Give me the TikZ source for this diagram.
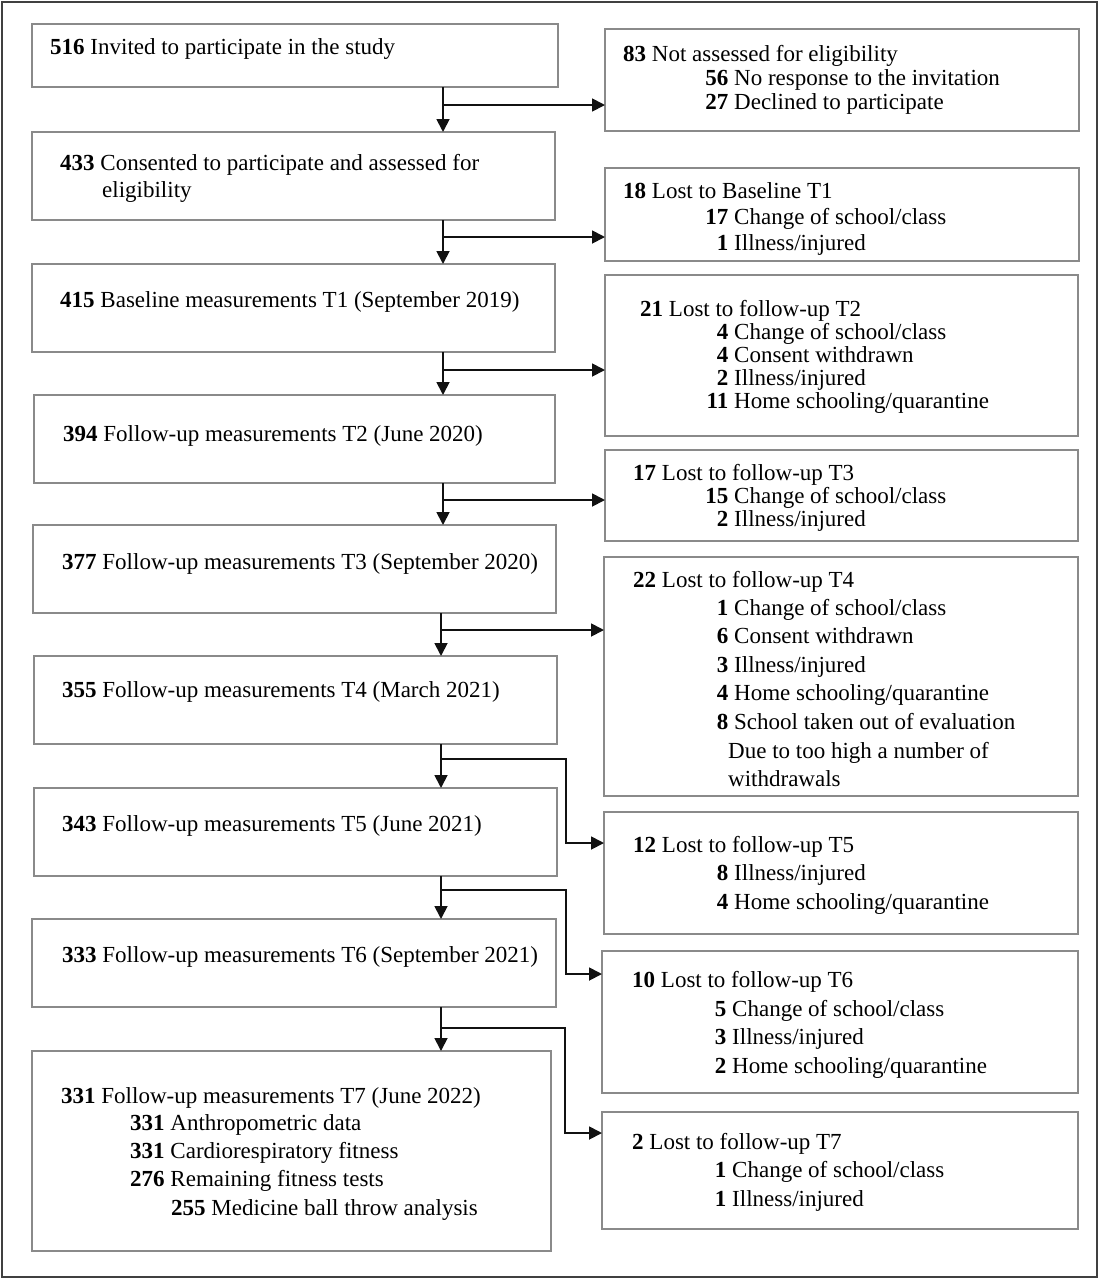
\documentclass[tikz,border=0pt]{standalone}
\usepackage{fontspec}
\setmainfont{Liberation Serif}
\usetikzlibrary{arrows.meta,fit}
\definecolor{boxgray}{HTML}{8A8A8A}
\definecolor{framegray}{HTML}{404040}
\definecolor{arrowblack}{HTML}{111111}
\newcommand\itm[2]{\llap{\textbf{#1}\ }#2}
\begin{document}
\begin{tikzpicture}[x=1pt,y=-1pt,
  box/.style={draw=boxgray, line width=1.4pt, inner sep=0pt, outer sep=0pt},
  txt/.style={anchor=base west, inner sep=0pt, font=\fontsize{23}{27}\selectfont},
  arr/.style={draw=arrowblack, line width=1.8pt, -{Triangle[length=13pt,width=13pt]}},
  ln/.style={draw=arrowblack, line width=1.8pt}]
\useasboundingbox (0,0) rectangle (1100,1280);
\draw[framegray, line width=1.5pt] (2,2) rectangle (1097,1277);

% left column boxes
\node[box, fit={(32,24) (558,87)}] (B1) {};
\node[box, fit={(32,132) (555,220)}] (B2) {};
\node[box, fit={(32,264) (555,352)}] (B3) {};
\node[box, fit={(34,395) (555,483)}] (B4) {};
\node[box, fit={(33,525) (556,613)}] (B5) {};
\node[box, fit={(34,656) (557,744)}] (B6) {};
\node[box, fit={(34,788) (557,876)}] (B7) {};
\node[box, fit={(32,919) (556,1007)}] (B8) {};
\node[box, fit={(32,1051) (551,1251)}] (B9) {};

% right column boxes
\node[box, fit={(605,29) (1079,131)}] (R1) {};
\node[box, fit={(605,168) (1079,261)}] (R2) {};
\node[box, fit={(605,275) (1078,436)}] (R3) {};
\node[box, fit={(605,450) (1078,541)}] (R4) {};
\node[box, fit={(604,557) (1078,796)}] (R5) {};
\node[box, fit={(604,812) (1078,934)}] (R6) {};
\node[box, fit={(602,951) (1078,1093)}] (R7) {};
\node[box, fit={(602,1112) (1078,1229)}] (R8) {};

% left texts
\node[txt] (t1) at (50,54) {\textbf{516} Invited to participate in the study};
\node[txt] (t2a) at (60,170) {\textbf{433} Consented to participate and assessed for};
\node[txt] (t2b) at (102,197) {eligibility};
\node[txt] (t3) at (60,307) {\textbf{415} Baseline measurements T1 (September 2019)};
\node[txt] (t4) at (63,441) {\textbf{394} Follow-up measurements T2 (June 2020)};
\node[txt] (t5) at (62,569) {\textbf{377} Follow-up measurements T3 (September 2020)};
\node[txt] (t6) at (62,697) {\textbf{355} Follow-up measurements T4 (March 2021)};
\node[txt] (t7) at (62,831) {\textbf{343} Follow-up measurements T5 (June 2021)};
\node[txt] (t8) at (62,962) {\textbf{333} Follow-up measurements T6 (September 2021)};
\node[txt] (t9a) at (61,1103) {\textbf{331} Follow-up measurements T7 (June 2022)};
\node[txt] (t9b) at (130,1130) {\textbf{331} Anthropometric data};
\node[txt] (t9c) at (130,1158) {\textbf{331} Cardiorespiratory fitness};
\node[txt] (t9d) at (130,1186) {\textbf{276} Remaining fitness tests};
\node[txt] (t9e) at (171,1215) {\textbf{255} Medicine ball throw analysis};

% right texts
\node[txt] (r1a) at (623,61) {\textbf{83} Not assessed for eligibility};
\node[txt] (r1b) at (734,85) {\itm{56}{No response to the invitation}};
\node[txt] (r1c) at (734,109) {\itm{27}{Declined to participate}};

\node[txt] (r2a) at (623,198) {\textbf{18} Lost to Baseline T1};
\node[txt] (r2b) at (734,224) {\itm{17}{Change of school/class}};
\node[txt] (r2c) at (734,250) {\itm{1}{Illness/injured}};

\node[txt] (r3a) at (640,316) {\textbf{21} Lost to follow-up T2};
\node[txt] (r3b) at (734,339) {\itm{4}{Change of school/class}};
\node[txt] (r3c) at (734,362) {\itm{4}{Consent withdrawn}};
\node[txt] (r3d) at (734,385) {\itm{2}{Illness/injured}};
\node[txt] (r3e) at (734,408) {\itm{11}{Home schooling/quarantine}};

\node[txt] (r4a) at (633,480) {\textbf{17} Lost to follow-up T3};
\node[txt] (r4b) at (734,503) {\itm{15}{Change of school/class}};
\node[txt] (r4c) at (734,526) {\itm{2}{Illness/injured}};

\node[txt] (r5a) at (633,587) {\textbf{22} Lost to follow-up T4};
\node[txt] (r5b) at (734,615) {\itm{1}{Change of school/class}};
\node[txt] (r5c) at (734,643.5) {\itm{6}{Consent withdrawn}};
\node[txt] (r5d) at (734,672) {\itm{3}{Illness/injured}};
\node[txt] (r5e) at (734,700.5) {\itm{4}{Home schooling/quarantine}};
\node[txt] (r5f) at (734,729) {\itm{8}{School taken out of evaluation}};
\node[txt] (r5g) at (728,758) {Due to too high a number of};
\node[txt] (r5h) at (728,786.5) {withdrawals};

\node[txt] (r6a) at (633,852) {\textbf{12} Lost to follow-up T5};
\node[txt] (r6b) at (734,880) {\itm{8}{Illness/injured}};
\node[txt] (r6c) at (734,909) {\itm{4}{Home schooling/quarantine}};

\node[txt] (r7a) at (632,987) {\textbf{10} Lost to follow-up T6};
\node[txt] (r7b) at (732,1016) {\itm{5}{Change of school/class}};
\node[txt] (r7c) at (732,1044.5) {\itm{3}{Illness/injured}};
\node[txt] (r7d) at (732,1073) {\itm{2}{Home schooling/quarantine}};

\node[txt] (r8a) at (632,1149) {\textbf{2} Lost to follow-up T7};
\node[txt] (r8b) at (732,1177.5) {\itm{1}{Change of school/class}};
\node[txt] (r8c) at (732,1206) {\itm{1}{Illness/injured}};

% junctions
\coordinate (j1) at (443,105);
\coordinate (j2) at (443,237);
\coordinate (j3) at (443,370);
\coordinate (j4) at (443,500);
\coordinate (j5) at (441,630);
\coordinate (j6) at (441,759);
\coordinate (j7) at (441,890);
\coordinate (j8) at (441,1028);
\coordinate (k6) at (566,843);
\coordinate (k7) at (566,974);
\coordinate (k8) at (565,1133);

% vertical flow
\draw[arr] (j1 |- B1.south) -- (j1 |- B2.north);
\draw[arr] (j2 |- B2.south) -- (j2 |- B3.north);
\draw[arr] (j3 |- B3.south) -- (j3 |- B4.north);
\draw[arr] (j4 |- B4.south) -- (j4 |- B5.north);
\draw[arr] (j5 |- B5.south) -- (j5 |- B6.north);
\draw[arr] (j6 |- B6.south) -- (j6 |- B7.north);
\draw[arr] (j7 |- B7.south) -- (j7 |- B8.north);
\draw[arr] (j8 |- B8.south) -- (j8 |- B9.north);

% side branches
\draw[arr] (j1) -- (j1 -| R1.west);
\draw[arr] (j2) -- (j2 -| R2.west);
\draw[arr] (j3) -- (j3 -| R3.west);
\draw[arr] (j4) -- (j4 -| R4.west);
\draw[arr] (j5) -- (j5 -| R5.west);
\draw[arr] (j6) -| (k6) -- (k6 -| R6.west);
\draw[arr] (j7) -| (k7) -- (k7 -| R7.west);
\draw[arr] (j8) -| (k8) -- (k8 -| R8.west);
\end{tikzpicture}
\end{document}
